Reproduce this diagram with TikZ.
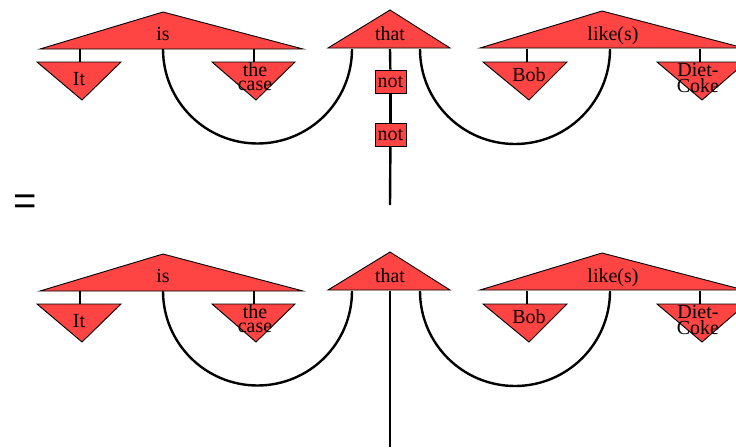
\documentclass[tikz,border=0pt]{standalone}
\usepackage{fontspec}
\setmainfont{Liberation Serif}
\newfontfamily\eqfont{Liberation Sans}
\definecolor{wordred}{RGB}{255,68,68}
\tikzset{
  tri/.style={fill=wordred, draw=black, line width=0.9pt, line join=miter},
  wire/.style={draw=black, line width=2.4pt},
  word/.style={inner sep=0pt, anchor=base, font=\fontsize{20}{14}\selectfont, align=center},
  notbox/.style={fill=wordred, draw=black, line width=0.9pt, inner sep=0pt,
    minimum width=31pt, minimum height=23pt, font=\fontsize{20}{14}\selectfont},
}
\begin{document}
\begin{tikzpicture}[x=1pt, y=-1pt]
	\useasboundingbox (0,0) rectangle (736,447);
	
	\foreach \row/\dy in {top/0, bot/242} {
		\begin{scope}[yshift=-\dy pt]
			% wires below the words
			\coordinate (\row-isbase) at (163,49);
			\coordinate (\row-thatL) at (352,49);
			\coordinate (\row-thatR) at (420,49);
			\coordinate (\row-likebase) at (610,49);
			\coordinate (\row-itstem) at (80,49);
			\coordinate (\row-casestem) at (254,49);
			\coordinate (\row-bobstem) at (527,49);
			\coordinate (\row-cokestem) at (700,49);
			\coordinate (\row-ittop) at (80,62);
			\coordinate (\row-casetop) at (254,62);
			\coordinate (\row-bobtop) at (527,62);
			\coordinate (\row-coketop) at (700,62);
			\draw[wire] (\row-itstem) -- (\row-ittop);
			\draw[wire] (\row-casestem) -- (\row-casetop);
			\draw[wire] (\row-bobstem) -- (\row-bobtop);
			\draw[wire] (\row-cokestem) -- (\row-coketop);
			\draw[wire] (\row-isbase) arc[start angle=180, end angle=360, radius=94.5pt];
			\draw[wire] (\row-thatR) arc[start angle=180, end angle=360, radius=95pt];
			
			% big triangles
			\draw[tri] (40,49) -- (163,12) -- (303,49) -- cycle;
			\draw[tri] (328,48) -- (390,10) -- (450,48) -- cycle;
			\draw[tri] (480,48) -- (602,11) -- (744,48) -- cycle;
			\node[word] (\row-is) at (163,40) {is};
			\node[word] (\row-that) at (390,40) {that};
			\node[word] (\row-like) at (613,40) {like(s)};
			
			% small triangles
			\draw[tri] (37,62) -- (121,62) -- (82,100) -- cycle;
			\draw[tri] (212,62) -- (295,62) -- (256,100) -- cycle;
			\draw[tri] (483,62) -- (567,62) -- (529,100) -- cycle;
			\draw[tri] (657,62) -- (746,62) -- (702,100) -- cycle;
			\node[word] (\row-it) at (79,85) {It};
			\node[word] (\row-case) at (255,90) {the\\case};
			\node[word] (\row-bob) at (529,81) {Bob};
			\node[word] (\row-coke) at (698,92) {Diet-\\Coke};
		\end{scope}
	}
	
	% top: doubled negation on the middle wire
	\coordinate (top-thatbase) at (390,49);
	\coordinate (top-end) at (390,205);
	\node[notbox] (not1) at (390.5,81.5) {not};
	\node[notbox] (not2) at (390.5,135) {not};
	\draw[wire] (top-thatbase) -- (not1);
	\draw[wire] (not1) -- (not2);
	\draw[wire] (not2) -- (top-end);
	
	% bottom: plain wire
	\coordinate (bot-thatbase) at (390,291);
	\coordinate (bot-end) at (390,447);
	\draw[wire] (bot-thatbase) -- (bot-end);
	
	\node[inner sep=0pt, font=\eqfont\fontsize{40}{40}\selectfont] (equals) at (25,205) {=};
\end{tikzpicture}
\end{document}
